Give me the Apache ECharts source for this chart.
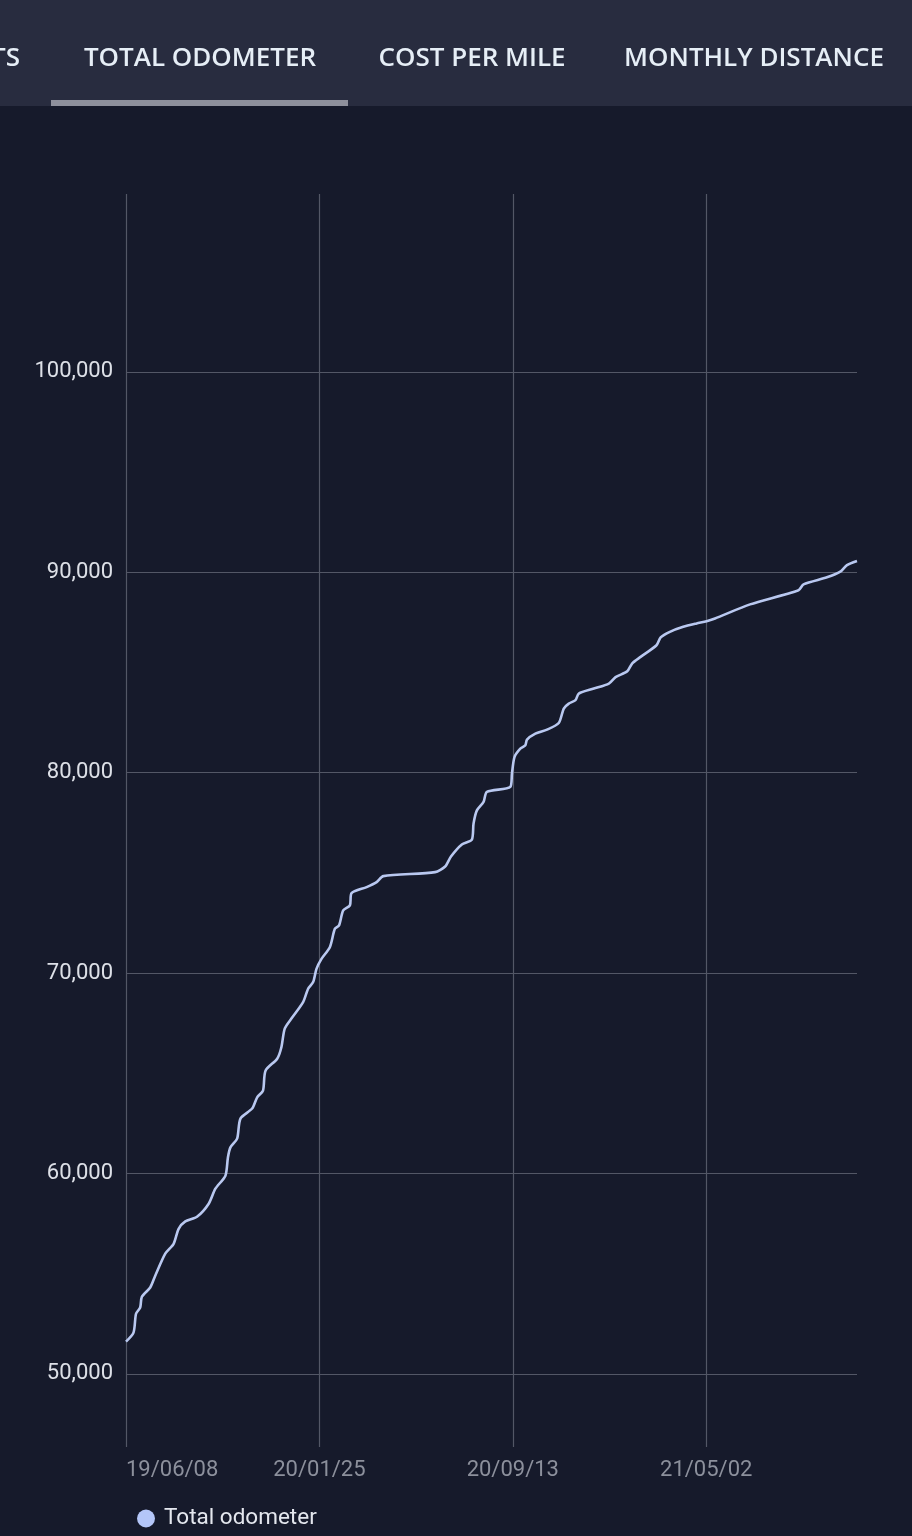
<!DOCTYPE html>
<html>
<head>
<meta charset="utf-8">
<script src="https://cdn.jsdelivr.net/npm/echarts@6/dist/echarts.min.js"></script>
<style>
html,body{margin:0;padding:0;background:#161a2b;}
#chart{width:912px;height:1536px;}
</style>
</head>
<body>
<div id="chart"></div>
<script>
// ---- data ----
const tabLabels = ['TS', 'TOTAL ODOMETER', 'COST PER MILE', 'MONTHLY DISTANCE'];
const seriesName = 'Total odometer';
const dates = [
  '2019-06-08','2019-06-17','2019-06-20','2019-06-25','2019-06-27','2019-07-07','2019-07-13','2019-07-25',
  '2019-08-04','2019-08-10','2019-08-18','2019-09-01','2019-09-15','2019-09-23','2019-10-05','2019-10-08',
  '2019-10-11','2019-10-19','2019-10-23','2019-11-06','2019-11-12','2019-11-19','2019-11-22','2019-12-06',
  '2019-12-11','2019-12-15','2019-12-23','2020-01-06','2020-01-12','2020-01-18','2020-01-22','2020-01-28',
  '2020-02-07','2020-02-13','2020-02-18','2020-02-23','2020-03-02','2020-03-04','2020-03-22','2020-04-03',
  '2020-04-11','2020-06-12','2020-06-24','2020-07-01','2020-07-14','2020-07-26','2020-07-28','2020-08-01',
  '2020-08-09','2020-08-13','2020-09-10','2020-09-12','2020-09-15','2020-09-22','2020-09-28','2020-09-30',
  '2020-10-10','2020-10-24','2020-11-07','2020-11-13','2020-11-19','2020-11-27','2020-12-01','2020-12-19',
  '2021-01-06','2021-01-14','2021-01-28','2021-02-03','2021-02-13','2021-03-04','2021-03-09','2021-03-20',
  '2021-04-05','2021-04-21','2021-05-03','2021-05-13','2021-06-24','2021-08-21','2021-08-27','2021-09-24',
  '2021-10-10','2021-10-18','2021-10-30'
];
const odometer = [
  51610,52060,53000,53310,53850,54310,54900,56000,
  56490,57240,57610,57840,58490,59240,59890,60800,
  61300,61740,62740,63240,63800,64140,65130,65730,
  66300,67230,67730,68550,69220,69550,70210,70710,
  71290,72210,72380,73130,73380,73990,74290,74540,
  74840,75040,75320,75820,76420,76660,77460,78120,
  78540,79040,79290,79960,80780,81200,81370,81650,
  81950,82150,82480,83200,83450,83620,83950,84200,
  84450,84770,85060,85460,85780,86360,86750,87030,
  87280,87450,87560,87700,88400,89110,89400,89750,
  90030,90360,90570
];
const yTickValues = [50000, 60000, 70000, 80000, 90000, 100000];
const yMin = 46350, yMax = 108880;
const xTickStepDays = 231.5;

// ---- build ----
const DAY = 86400000;
const t0 = Date.parse(dates[0] + 'T00:00:00Z');
const dayOffset = d => Math.round((Date.parse(d + 'T00:00:00Z') - t0) / DAY);
const seriesData = dates.map((d, i) => [dayOffset(d), odometer[i]]);
const xMax = seriesData[seriesData.length - 1][0];
const pad = n => (n < 10 ? '0' : '') + n;
const fmtDay = v => {
  const dt = new Date(t0 + Math.floor(v + 1e-6) * DAY);
  return pad(dt.getUTCFullYear() % 100) + '/' + pad(dt.getUTCMonth() + 1) + '/' + pad(dt.getUTCDate());
};

const chart = echarts.init(document.getElementById('chart'));
const tabFont = '600 26px "Open Sans", "Noto Sans", sans-serif';
chart.setOption({
  backgroundColor: '#161a2b',
  animation: false,
  graphic: [
    { type: 'rect', left: 0, top: 0, shape: { width: 912, height: 106 }, style: { fill: '#282c3f' }, z: 0 },
    { type: 'rect', left: 51, top: 100, shape: { width: 297, height: 6 }, style: { fill: '#8e909c' }, z: 1 },
    { type: 'text', x: 20, y: 59, style: { text: tabLabels[0], font: tabFont, fill: '#e6eef6', align: 'right', verticalAlign: 'middle' } },
    { type: 'text', x: 200, y: 59, style: { text: tabLabels[1], font: tabFont, fill: '#e6eef6', align: 'center', verticalAlign: 'middle' } },
    { type: 'text', x: 472, y: 59, style: { text: tabLabels[2], font: tabFont, fill: '#e6eef6', align: 'center', verticalAlign: 'middle' } },
    { type: 'text', x: 754, y: 59, style: { text: tabLabels[3], font: tabFont, fill: '#e6eef6', align: 'center', verticalAlign: 'middle' } }
  ],
  grid: { left: 126, right: 55, top: 194, bottom: 89, containLabel: false },
  legend: {
    data: [seriesName],
    left: 132, top: 1502,
    icon: 'circle', itemWidth: 26, itemHeight: 18,
    textStyle: { color: '#e4e7ee', fontSize: 22.5, fontFamily: 'Roboto' }
  },
  xAxis: {
    type: 'value',
    min: 0, max: xMax, interval: xTickStepDays,
    axisLine: { show: false },
    axisTick: { show: false },
    axisLabel: {
      formatter: fmtDay, color: '#8c909c', fontSize: 22, fontFamily: 'Roboto',
      margin: 12, showMaxLabel: false, alignMinLabel: 'left'
    },
    splitLine: { show: true, showMaxLine: false, lineStyle: { color: '#535766', width: 1.2 } }
  },
  yAxis: {
    type: 'value',
    min: yMin, max: yMax,
    axisLine: { show: false },
    axisTick: { show: false, customValues: yTickValues },
    axisLabel: {
      customValues: yTickValues, color: '#dde0e7', fontSize: 22, fontFamily: 'Roboto', margin: 13,
      formatter: v => v.toLocaleString('en-US')
    },
    splitLine: { show: true, lineStyle: { color: '#535766', width: 1.2 } }
  },
  series: [{
    name: seriesName,
    type: 'line',
    data: seriesData,
    showSymbol: false,
    smooth: 0.25,
    color: '#b4c6f8',
    lineStyle: { color: '#b9c8f0', width: 2.6 }
  }]
});
</script>
</body>
</html>
